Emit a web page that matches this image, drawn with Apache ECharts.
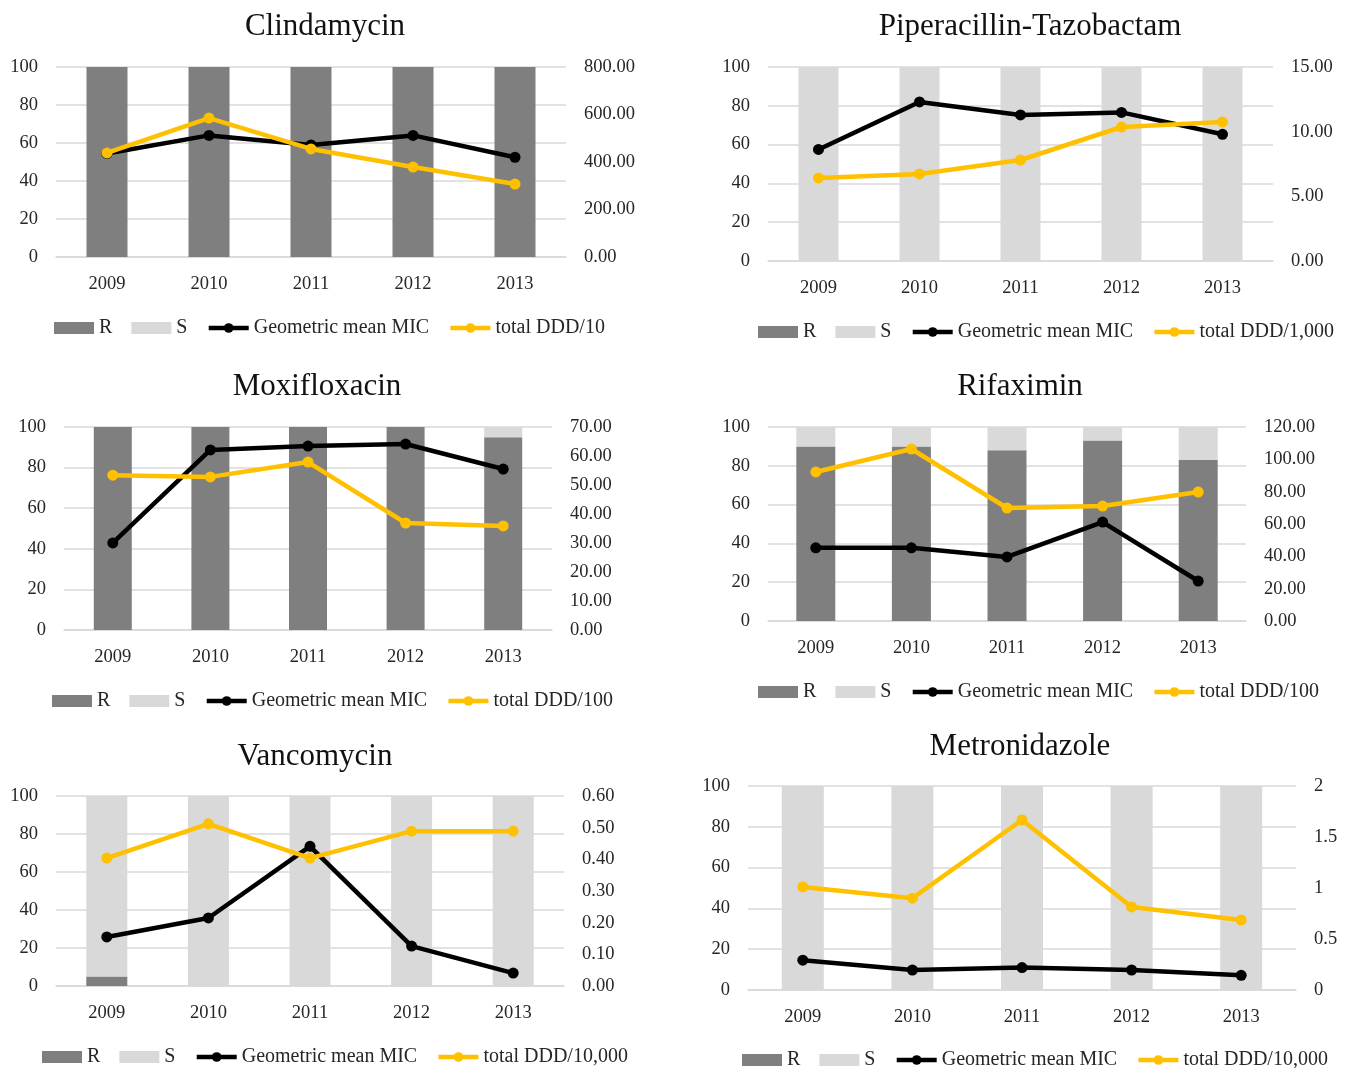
<!DOCTYPE html>
<html>
<head>
<meta charset="utf-8">
<script src="https://cdn.jsdelivr.net/npm/echarts@6/dist/echarts.min.js"></script>
<style>
html,body{margin:0;padding:0;background:#fff;}
#c{width:1350px;height:1068px;}
</style>
</head>
<body>
<div id="c"></div>
<script>
// ---------- DATA ----------
const years = ['2009', '2010', '2011', '2012', '2013'];
const leftTicks = [0, 20, 40, 60, 80, 100];

const clindamycinR = [100, 100, 100, 100, 100];
const clindamycinS = [0, 0, 0, 0, 0];
const clindamycinMIC = [54.5, 64, 59, 64, 52.5];
const clindamycinDDD = [438, 585, 455, 379, 307];

const piperacillinR = [0, 0, 0, 0, 0];
const piperacillinS = [100, 100, 100, 100, 100];
const piperacillinMIC = [57.5, 82, 75.3, 76.6, 65.3];
const piperacillinDDD = [6.42, 6.73, 7.81, 10.36, 10.75];

const moxifloxacinR = [100, 100, 100, 100, 95];
const moxifloxacinS = [0, 0, 0, 0, 5];
const moxifloxacinMIC = [42.9, 88.7, 90.6, 91.6, 79.3];
const moxifloxacinDDD = [53.4, 52.8, 57.9, 36.9, 35.9];

const rifaximinR = [90, 90, 88, 93, 83];
const rifaximinS = [10, 10, 12, 7, 17];
const rifaximinMIC = [37.7, 37.7, 33, 51, 20.6];
const rifaximinDDD = [92.2, 106.4, 69.9, 71.1, 79.8];

const vancomycinR = [5, 0, 0, 0, 0];
const vancomycinS = [95, 100, 100, 100, 100];
const vancomycinMIC = [25.8, 35.8, 73.5, 21, 6.8];
const vancomycinDDD = [0.404, 0.512, 0.404, 0.489, 0.489];

const metronidazoleR = [0, 0, 0, 0, 0];
const metronidazoleS = [100, 100, 100, 100, 100];
const metronidazoleMIC = [14.6, 9.8, 11, 9.8, 7.2];
const metronidazoleDDD = [1.01, 0.90, 1.667, 0.814, 0.686];

const panelTitles = ['Clindamycin', 'Piperacillin-Tazobactam', 'Moxifloxacin', 'Rifaximin', 'Vancomycin', 'Metronidazole'];
const dddNames = ['total DDD/10', 'total DDD/1,000', 'total DDD/100', 'total DDD/100', 'total DDD/10,000', 'total DDD/10,000'];
const rightMax = [800, 15, 70, 120, 0.6, 2];
const rightStep = [200, 5, 10, 20, 0.1, 0.5];
const rightDecimals = [2, 2, 2, 2, 2, -1];

const panelData = [
  [clindamycinR, clindamycinS, clindamycinMIC, clindamycinDDD],
  [piperacillinR, piperacillinS, piperacillinMIC, piperacillinDDD],
  [moxifloxacinR, moxifloxacinS, moxifloxacinMIC, moxifloxacinDDD],
  [rifaximinR, rifaximinS, rifaximinMIC, rifaximinDDD],
  [vancomycinR, vancomycinS, vancomycinMIC, vancomycinDDD],
  [metronidazoleR, metronidazoleS, metronidazoleMIC, metronidazoleDDD]
];

// ---------- LAYOUT ----------
const layout = [
  {gl: 56, gw: 510, gt: 67, gh: 190, tx: 325, ty: 11, lx: 54, ly: 318, bw: 41},
  {gl: 768, gw: 505, gt: 67, gh: 194, tx: 1030, ty: 11, lx: 758, ly: 322, bw: 40},
  {gl: 64, gw: 488, gt: 427, gh: 203, tx: 317, ty: 371, lx: 52, ly: 691, bw: 38},
  {gl: 768, gw: 478, gt: 427, gh: 194, tx: 1020, ty: 371, lx: 758, ly: 682, bw: 39},
  {gl: 56, gw: 508, gt: 796, gh: 190, tx: 315, ty: 741, lx: 42, ly: 1047, bw: 41},
  {gl: 748, gw: 548, gt: 786, gh: 204, tx: 1020, ty: 731, lx: 742, ly: 1050, bw: 42}
];

const FONT = 'Liberation Serif';
const TXT = '#262626';
const GRAY_R = '#7f7f7f', GRAY_S = '#d9d9d9', YEL = '#ffc000', GRID = '#d9d9d9';

const option = {
  animation: false,
  backgroundColor: '#fff',
  textStyle: {fontFamily: FONT},
  title: [], grid: [], xAxis: [], yAxis: [], legend: [], series: []
};

layout.forEach((L, i) => {
  const [R, S, MIC, DDD] = panelData[i];
  option.title.push({
    text: panelTitles[i], left: L.tx, top: L.ty, textAlign: 'center', padding: 0,
    textStyle: {fontFamily: FONT, fontSize: 31, fontWeight: 'normal', color: '#111'}
  });
  option.grid.push({left: L.gl, top: L.gt, width: L.gw, height: L.gh});
  option.xAxis.push({
    type: 'category', gridIndex: i, data: years,
    axisLine: {show: true, lineStyle: {color: GRID, width: 1.5}},
    axisTick: {show: false},
    axisLabel: {fontFamily: FONT, fontSize: 18.5, color: TXT, margin: 18}
  });
  option.yAxis.push({
    type: 'value', gridIndex: i, min: 0, max: 100, interval: 20,
    axisLine: {show: false}, axisTick: {show: false},
    splitLine: {show: true, lineStyle: {color: GRID, width: 1.5}},
    axisLabel: {fontFamily: FONT, fontSize: 18.5, color: TXT, margin: 18,
      formatter: v => leftTicks.includes(v) ? String(v) : ''}
  });
  const dec = rightDecimals[i];
  option.yAxis.push({
    type: 'value', gridIndex: i, min: 0, max: rightMax[i], interval: rightStep[i],
    position: 'right',
    axisLine: {show: false}, axisTick: {show: false}, splitLine: {show: false},
    axisLabel: {fontFamily: FONT, fontSize: 18.5, color: TXT, margin: 18,
      formatter: v => dec >= 0 ? v.toFixed(dec) : String(+v.toFixed(2))}
  });
  option.legend.push({
    left: L.lx, top: L.ly, padding: 0, itemWidth: 40, itemHeight: 12, itemGap: 19,
    textStyle: {fontFamily: FONT, fontSize: 20, color: TXT},
    data: [
      {name: 'R', icon: 'rect'},
      {name: 'S', icon: 'rect'},
      {name: 'Geometric mean MIC', lineStyle: {width: 4.5}},
      {name: dddNames[i], lineStyle: {width: 4.5}}
    ]
  });
  option.series.push(
    {name: 'R', type: 'bar', stack: 'p' + i, xAxisIndex: i, yAxisIndex: 2 * i,
      data: R, barWidth: L.bw, itemStyle: {color: GRAY_R}},
    {name: 'S', type: 'bar', stack: 'p' + i, xAxisIndex: i, yAxisIndex: 2 * i,
      data: S, barWidth: L.bw, itemStyle: {color: GRAY_S}},
    {name: 'Geometric mean MIC', type: 'line', xAxisIndex: i, yAxisIndex: 2 * i,
      data: MIC, symbol: 'circle', symbolSize: 11, z: 3,
      lineStyle: {color: '#000', width: 4.5}, itemStyle: {color: '#000'}},
    {name: dddNames[i], type: 'line', xAxisIndex: i, yAxisIndex: 2 * i + 1,
      data: DDD, symbol: 'circle', symbolSize: 11, z: 4,
      lineStyle: {color: YEL, width: 4.5}, itemStyle: {color: YEL}}
  );
});

const chart = echarts.init(document.getElementById('c'), null, {renderer: 'canvas'});
chart.setOption(option);
</script>
</body>
</html>
